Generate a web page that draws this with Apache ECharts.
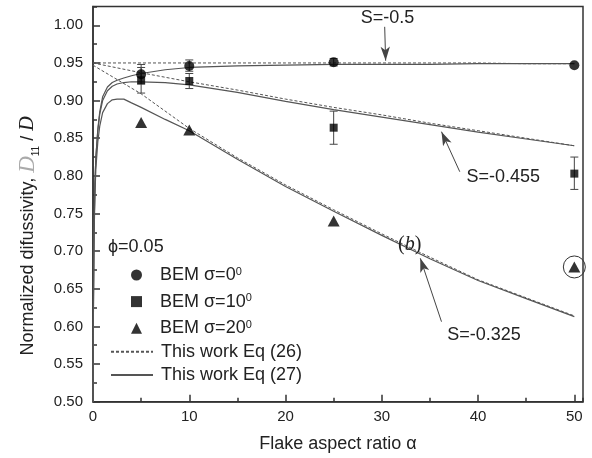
<!DOCTYPE html>
<html>
<head>
<meta charset="utf-8">
<script src="https://cdn.jsdelivr.net/npm/echarts@6/dist/echarts.min.js"></script>
<style>
  html, body { margin: 0; padding: 0; background: #fff; }
  #main { width: 592px; height: 458px; }
</style>
</head>
<body>
<div id="main"></div>
<script>
// values
const bemX = [5, 10, 25, 50];
const bem0 = [0.935, 0.946, 0.951, 0.947];
const bem10 = [0.927, 0.926, 0.864, 0.803];
const bem20 = [0.871, 0.861, 0.740, 0.679];

// error bars: [alpha, low, high]
const err0 = [[5, 0.922, 0.948], [10, 0.939, 0.954], [25, 0.946, 0.956]];
const err10 = [[5, 0.910, 0.944], [10, 0.916, 0.936], [25, 0.842, 0.886], [50, 0.782, 0.825]];

// Eq (26), dashed
const eq26X = [0, 5, 10, 15, 20, 25, 30, 35, 40, 45, 50];
const eq26S050 = [0.950, 0.950, 0.950, 0.950, 0.950, 0.950, 0.950, 0.950, 0.950, 0.949, 0.949];
const eq26S0455 = [0.950, 0.937, 0.925, 0.914, 0.902, 0.891, 0.881, 0.870, 0.860, 0.850, 0.840];
const eq26S0325 = [0.947, 0.909, 0.863, 0.824, 0.788, 0.755, 0.723, 0.692, 0.662, 0.638, 0.614];

// Eq (27), solid
const eq27X = [0, 0.05, 0.1, 0.2, 0.3, 0.5, 0.7, 1, 1.5, 2, 2.5, 3.2, 4, 5, 7.5, 10, 15, 20, 25, 30, 35, 40, 45, 50];
const eq27S050 = [0.50, 0.64, 0.72, 0.79, 0.825, 0.862, 0.885, 0.905, 0.918, 0.924, 0.927, 0.930, 0.933, 0.936, 0.941, 0.944, 0.946, 0.947, 0.948, 0.948, 0.948, 0.949, 0.949, 0.949];
const eq27S0455 = [0.50, 0.64, 0.72, 0.79, 0.825, 0.860, 0.882, 0.900, 0.913, 0.919, 0.922, 0.924, 0.925, 0.925, 0.924, 0.921, 0.911, 0.899, 0.888, 0.878, 0.868, 0.858, 0.849, 0.840];
const eq27S0325 = [0.50, 0.63, 0.71, 0.775, 0.81, 0.845, 0.866, 0.884, 0.896, 0.901, 0.902, 0.902, 0.897, 0.891, 0.875, 0.860, 0.822, 0.786, 0.753, 0.721, 0.690, 0.661, 0.637, 0.613];

const font = 'Liberation Sans';
const ink = '#222';
const lineInk = '#555';

const pairs = (xs, ys) => xs.map((x, i) => [x, ys[i]]);

const mChart = echarts.init(document.getElementById('main'));

function eqLine(name, xs, ys, dashed) {
  return {
    name: name,
    type: 'line',
    data: pairs(xs, ys),
    symbol: 'none',
    silent: true,
    z: 2,
    itemStyle: { color: lineInk },
    lineStyle: {
      color: lineInk,
      width: dashed ? 1 : 1.2,
      type: dashed ? [3, 2] : 'solid',
    },
  };
}

function errorBars(data) {
  return {
    type: 'custom',
    data: data,
    z: 3,
    silent: true,
    encode: { x: 0, y: [1, 2] },
    renderItem: (params, api) => {
      const lo = api.coord([api.value(0), api.value(1)]);
      const hi = api.coord([api.value(0), api.value(2)]);
      const w = 4;
      const style = { stroke: '#444', lineWidth: 1 };
      return {
        type: 'group',
        children: [
          { type: 'line', shape: { x1: lo[0], y1: lo[1], x2: hi[0], y2: hi[1] }, style: style },
          { type: 'line', shape: { x1: lo[0] - w, y1: lo[1], x2: lo[0] + w, y2: lo[1] }, style: style },
          { type: 'line', shape: { x1: hi[0] - w, y1: hi[1], x2: hi[0] + w, y2: hi[1] }, style: style },
        ],
      };
    },
  };
}

function bem(name, ys, symbol, size) {
  return {
    name: name,
    type: 'scatter',
    data: pairs(bemX, ys),
    symbol: symbol,
    symbolSize: size,
    symbolKeepAspect: true,
    z: 4,
    itemStyle: { color: '#000' },
  };
}

// arrows of the S= annotations, given in data coordinates
const arrows = [
  [[30.3, 0.998], [30.4, 0.953]],
  [[38.1, 0.8055], [36.2, 0.8587]],
  [[36.2, 0.6063], [34.0, 0.6905]],
];

const legendText = {
  fontFamily: font, fontSize: 18, color: ink, lineHeight: 18,
  rich: { sup: { fontFamily: font, fontSize: 11, lineHeight: 11, verticalAlign: 'top', color: ink } },
};

const option = {
  backgroundColor: '#fff',
  animation: false,
  grid: {
    left: 93, right: 9, top: 6.5, bottom: 56.3,
    show: true, borderColor: '#333', borderWidth: 1.5,
    outerBoundsMode: 'none',
  },
  legend: [
    {
      // BEM markers
      orient: 'vertical',
      left: 126,
      top: 261,
      itemWidth: 11,
      itemHeight: 11,
      itemGap: 8.6,
      selectedMode: false,
      textStyle: Object.assign({ padding: [0, 0, 0, 13] }, legendText),
      formatter: (name) => name + '{sup|0}',
      data: ['BEM σ=0', 'BEM σ=10', 'BEM σ=20'],
    },
    {
      // model lines
      orient: 'vertical',
      left: 105,
      top: 337.7,
      itemWidth: 42,
      itemHeight: 11,
      itemGap: 5.3,
      selectedMode: false,
      itemStyle: { opacity: 0 },
      textStyle: Object.assign({ padding: [0, 0, 0, 3] }, legendText),
      data: ['This work Eq (26)', 'This work Eq (27)'],
    },
  ],
  xAxis: [
    {
      type: 'value', min: 0, max: 50.9, interval: 10,
      name: 'Flake aspect ratio α', nameLocation: 'middle', nameGap: 33,
      nameTextStyle: { fontFamily: font, fontSize: 18, color: ink },
      axisLine: { lineStyle: { color: '#333', width: 1.5 } },
      axisTick: { inside: true, length: 7, lineStyle: { color: '#333', width: 1.5 } },
      axisLabel: { fontFamily: font, fontSize: 15, color: ink, margin: 8, showMaxLabel: false },
      splitLine: { show: false },
    },
    {
      // minor ticks
      type: 'value', min: 0, max: 50.9, interval: 5, position: 'bottom',
      axisLine: { show: false },
      axisTick: { inside: true, length: 4, lineStyle: { color: '#333', width: 1.5 } },
      axisLabel: { show: false },
      splitLine: { show: false },
    },
  ],
  yAxis: [
    {
      type: 'value', min: 0.5, max: 1.025, interval: 0.05,
      axisLine: { show: true, lineStyle: { color: '#333', width: 1.5 } },
      axisTick: { show: true, inside: true, length: 7, lineStyle: { color: '#333', width: 1.5 } },
      axisLabel: {
        fontFamily: font, fontSize: 15, color: ink, margin: 10, showMaxLabel: false,
        formatter: (v) => v.toFixed(2),
      },
      splitLine: { show: false },
    },
    {
      // minor ticks
      type: 'value', min: 0.5, max: 1.025, interval: 0.025, position: 'left',
      axisLine: { show: false },
      axisTick: { show: true, inside: true, length: 4, lineStyle: { color: '#333', width: 1.5 } },
      axisLabel: { show: false },
      splitLine: { show: false },
    },
  ],
  series: [
    eqLine('This work Eq (26)', eq26X, eq26S050, true),
    eqLine('This work Eq (26)', eq26X, eq26S0455, true),
    eqLine('This work Eq (26)', eq26X, eq26S0325, true),
    eqLine('This work Eq (27)', eq27X, eq27S050, false),
    eqLine('This work Eq (27)', eq27X, eq27S0455, false),
    eqLine('This work Eq (27)', eq27X, eq27S0325, false),
    errorBars(err0),
    errorBars(err10),
    bem('BEM σ=0', bem0, 'circle', 10),
    bem('BEM σ=10', bem10, 'rect', 8),
    bem('BEM σ=20', bem20, 'triangle', [12, 11]),
    {
      type: 'line',
      data: [],
      silent: true,
      markLine: {
        silent: true,
        animation: false,
        symbol: ['none', 'arrow'],
        symbolSize: [7, 14],
        label: { show: false },
        lineStyle: { color: '#444', width: 1, type: 'solid' },
        data: arrows.map((a) => [{ coord: a[0] }, { coord: a[1] }]),
      },
    },
  ],
};

mChart.setOption(option);

// annotations placed from data coordinates
const px = (x, y) => mChart.convertToPixel({ xAxisIndex: 0, yAxisIndex: 0 }, [x, y]);

function label(text, pos, align, extra) {
  return {
    type: 'text',
    x: pos[0],
    y: pos[1],
    z: 10,
    style: Object.assign({
      text: text,
      fontFamily: font,
      fontSize: 18,
      fill: ink,
      align: align,
      verticalAlign: 'middle',
      textAlign: align,
      textVerticalAlign: 'middle',
    }, extra || {}),
  };
}

const circ = px(50, 0.679);
mChart.setOption({
  graphic: [
    label('S=-0.5', px(30.6, 1.0097), 'center'),
    label('S=-0.455', px(38.8, 0.7985), 'left'),
    label('S=-0.325', px(36.8, 0.589), 'left'),
    label('ϕ=0.05', px(1.56, 0.706), 'left'),
    label('({b|b})', px(32.9, 0.708), 'center', {
      fontFamily: 'Liberation Serif', fontSize: 20,
      rich: { b: { fontFamily: 'Liberation Serif', fontStyle: 'italic', fontSize: 20, fill: ink } },
    }),
    {
      type: 'circle',
      shape: { cx: circ[0], cy: circ[1], r: 11 },
      style: { fill: 'none', stroke: '#333', lineWidth: 1 },
      z: 10,
    },
    {
      type: 'text',
      x: 28,
      y: 236,
      rotation: Math.PI / 2,
      z: 10,
      style: {
        text: '{n|Normalized difussivity, }{d|D}{s|11}{n| / }{i|D}',
        align: 'center',
        verticalAlign: 'middle',
        textAlign: 'center',
        textVerticalAlign: 'middle',
        rich: {
          n: { fontFamily: font, fontSize: 18, fill: ink, lineHeight: 26 },
          d: { fontFamily: 'Liberation Serif', fontStyle: 'italic', fontSize: 23, fill: '#aaa', lineHeight: 26 },
          s: { fontFamily: font, fontSize: 10, fill: ink, lineHeight: 10, verticalAlign: 'bottom' },
          i: { fontFamily: 'Liberation Serif', fontStyle: 'italic', fontSize: 20, fill: ink, lineHeight: 26 },
        },
      },
    },
  ],
});
</script>
</body>
</html>
